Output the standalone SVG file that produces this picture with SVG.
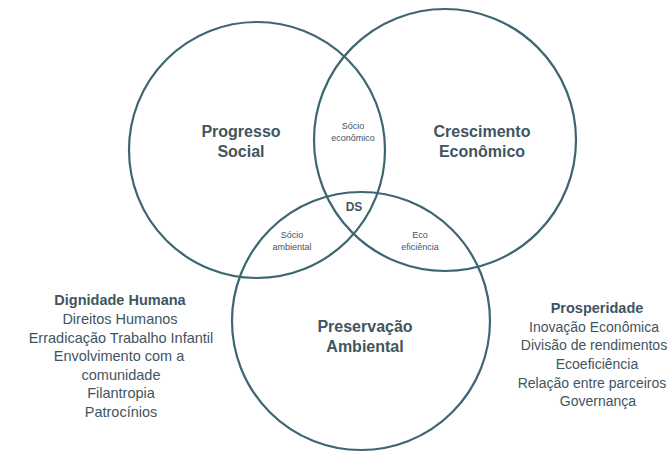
<svg xmlns="http://www.w3.org/2000/svg" width="672" height="454" viewBox="0 0 672 454">
<style>
.c{fill:none;stroke:#3e6672;stroke-width:2.2}
.t{font-family:"Liberation Sans",Arial,sans-serif;fill:#3f5561;text-anchor:middle}
.h{font-size:16px;font-weight:bold}
.s{font-size:9px}
.l{font-size:14.5px}
.lb{font-size:14.5px;font-weight:bold}
.r{font-size:14px}
</style>
<rect width="672" height="454" fill="#ffffff"/>
<g id="social">
<circle class="c" cx="257" cy="150" r="128"/>
<text class="t h" x="241" y="137">Progresso</text>
<text class="t h" x="241" y="157">Social</text>
</g>
<g id="economico">
<circle class="c" cx="445" cy="140" r="131"/>
<text class="t h" x="482" y="137">Crescimento</text>
<text class="t h" x="482" y="157">Econômico</text>
</g>
<g id="ambiental">
<circle class="c" cx="361" cy="321" r="129"/>
<text class="t h" x="365" y="332">Preservação</text>
<text class="t h" x="365" y="352">Ambiental</text>
</g>
<g id="socio-economico">
<text class="t s" x="353" y="129">Sócio</text>
<text class="t s" x="353" y="141">econômico</text>
</g>
<g id="socio-ambiental">
<text class="t s" x="292" y="238">Sócio</text>
<text class="t s" x="292" y="250">ambiental</text>
</g>
<g id="eco-eficiencia">
<text class="t s" x="420" y="238">Eco</text>
<text class="t s" x="420" y="250">eficiência</text>
</g>
<g id="ds">
<text class="t" x="354" y="211" style="font-size:12px;font-weight:bold">DS</text>
</g>
<g id="lista-social">
<text class="t lb" x="120" y="305">Dignidade Humana</text>
<text class="t l" x="120" y="324">Direitos Humanos</text>
<text class="t l" x="121" y="343">Erradicação Trabalho Infantil</text>
<text class="t l" x="119" y="361">Envolvimento com a</text>
<text class="t l" x="121" y="380">comunidade</text>
<text class="t l" x="121" y="398">Filantropia</text>
<text class="t l" x="121" y="417">Patrocínios</text>
</g>
<g id="lista-economico">
<text class="t lb" x="597" y="313">Prosperidade</text>
<text class="t r" x="594" y="332">Inovação Econômica</text>
<text class="t r" x="594" y="350">Divisão de rendimentos</text>
<text class="t r" x="597" y="369">Ecoeficiência</text>
<text class="t r" x="592" y="388">Relação entre parceiros</text>
<text class="t r" x="598" y="406">Governança</text>
</g>
<g id="connectors"></g>
</svg>
